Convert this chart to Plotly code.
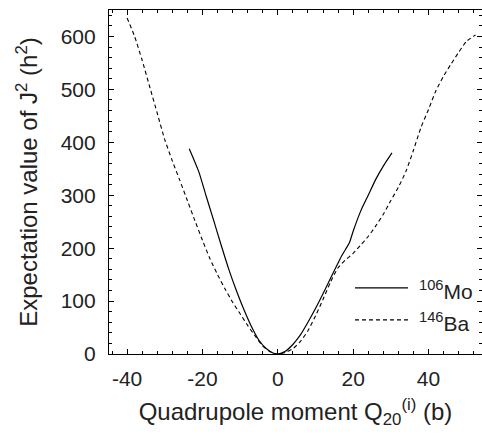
import plotly.graph_objects as go

# 106Mo (solid)
mo_q = [-23.5, -21, -19, -17, -15, -13, -11, -9, -7, -5, -3, -1, 0, 2, 4, 6, 8, 10,
        12, 14, 16, 17, 18, 19, 20, 22, 24, 26, 28, 30.3]
mo_j2 = [388, 345, 298, 252, 205, 160, 120, 84, 52, 26, 10, 1, 0, 5, 18, 36, 60, 86,
         114, 143, 172, 186, 198, 210, 232, 270, 300, 330, 355, 380]

# 146Ba (dashed)
ba_q = [-40, -38, -36, -34, -32, -30, -28, -26, -24, -22, -20, -18, -16, -14, -12, -10,
        -8, -6, -4, -2, 0, 2, 4, 6, 8, 10, 12, 14, 16, 18, 20, 22, 24, 26, 28, 30, 32,
        34, 36, 38, 40, 42, 44, 46, 48, 50, 52.5]
ba_j2 = [635, 600, 555, 505, 455, 405, 365, 328, 290, 252, 215, 180, 150, 123, 98, 76,
         54, 34, 15, 4, 0, 3, 10, 24, 44, 72, 103, 136, 163, 178, 190, 206, 222, 242,
         264, 290, 315, 345, 385, 428, 462, 498, 525, 548, 570, 590, 603]

x_ticks = [-40, -20, 0, 20, 40]
y_ticks = [0, 100, 200, 300, 400, 500, 600]
legend_labels = ["<sup>106</sup>Mo", "<sup>146</sup>Ba"]

font = "Liberation Sans, Arial, Helvetica, sans-serif"
txt = "#222"

fig = go.Figure()
fig.add_trace(go.Scatter(x=mo_q, y=mo_j2, mode="lines", name=legend_labels[0], showlegend=False,
                         line=dict(color="black", width=1.2, shape="spline", smoothing=0.6)))
fig.add_trace(go.Scatter(x=ba_q, y=ba_j2, mode="lines", name=legend_labels[1], showlegend=False,
                         line=dict(color="black", width=1.1, dash="4px,3px", shape="spline", smoothing=0.6)))

axis_common = dict(showline=True, linecolor="black", linewidth=1.2, mirror="ticks",
                   ticks="inside", ticklen=5, tickwidth=1, tickcolor="black",
                   showgrid=False, zeroline=False,
                   tickfont=dict(family=font, size=21, color=txt))

fig.update_xaxes(range=[-44.8, 54.2], tickvals=x_ticks, ticktext=[str(v) for v in x_ticks],
                 minor=dict(dtick=4, tick0=0, ticks="inside", ticklen=3, tickcolor="black", showgrid=False),
                 ticklabelstandoff=6,
                 title=dict(text="Quadrupole moment Q<sub>20</sub><sup>(i)</sup> (b)",
                            font=dict(family=font, size=24, color=txt), standoff=13),
                 **axis_common)
fig.update_yaxes(range=[0, 650], tickvals=y_ticks, ticktext=[str(v) for v in y_ticks],
                 minor=dict(dtick=20, tick0=0, ticks="inside", ticklen=3, tickcolor="black", showgrid=False),
                 ticklabelstandoff=8,
                 title=dict(text="Expectation value of J<sup>2</sup> (h<sup>2</sup>)",
                            font=dict(family=font, size=24, color=txt), standoff=16),
                 **axis_common)

# hand-placed key (paper coordinates)
key_rows = [(0.192, "solid"), (0.099, "4px,3px")]
for (yk, dash), lab in zip(key_rows, legend_labels):
    fig.add_shape(type="line", xref="paper", yref="paper", x0=0.6595, x1=0.8016, y0=yk, y1=yk,
                  line=dict(color="black", width=1.2, dash=dash))
    fig.add_annotation(xref="paper", yref="paper", x=0.826, y=yk - 0.005, xanchor="left", yanchor="middle",
                       text=lab, showarrow=False, font=dict(family=font, size=21, color=txt))

fig.update_layout(width=482, height=434, margin=dict(l=109, r=0, t=10, b=80),
                  plot_bgcolor="white", paper_bgcolor="white", showlegend=False)

fig.write_html("out.html")
